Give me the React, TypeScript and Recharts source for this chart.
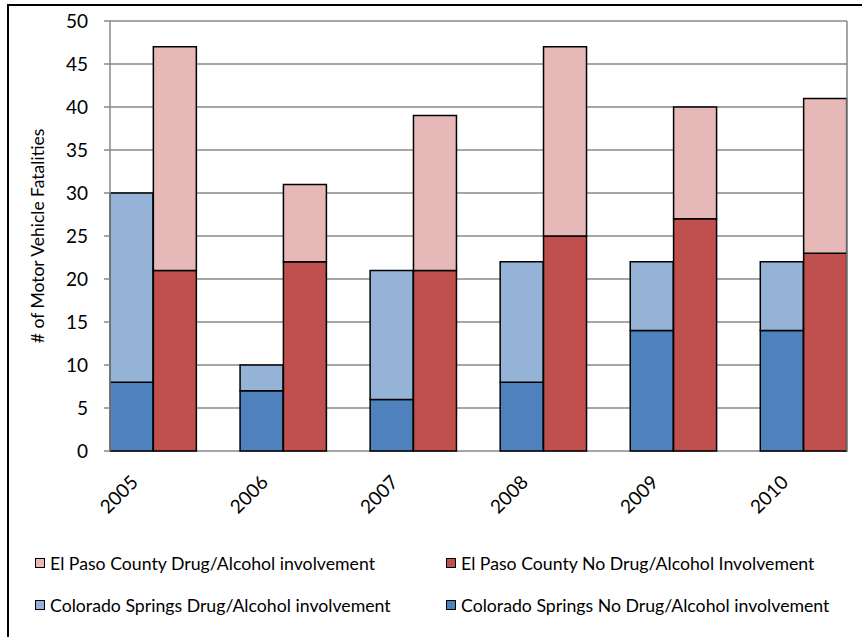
import React from 'react';
import { BarChart, Bar, XAxis, YAxis, CartesianGrid, Legend, ReferenceLine } from 'recharts';

const YEARS = ['2005', '2006', '2007', '2008', '2009', '2010'];
const CS_NO_DRUG = [8, 7, 6, 8, 14, 14];
const CS_DRUG = [22, 3, 15, 14, 8, 8];
const EP_NO_DRUG = [21, 22, 21, 25, 27, 23];
const EP_DRUG = [26, 9, 18, 22, 13, 18];
const Y_TICKS = [0, 5, 10, 15, 20, 25, 30, 35, 40, 45, 50];

const SERIES = [
  { key: 'csNo', name: 'Colorado Springs No Drug/Alcohol involvement', color: '#4F81BD' },
  { key: 'csDrug', name: 'Colorado Springs Drug/Alcohol involvement', color: '#95B3D7' },
  { key: 'epNo', name: 'El Paso County No Drug/Alcohol Involvement', color: '#C0504D' },
  { key: 'epDrug', name: 'El Paso County Drug/Alcohol involvement', color: '#E6B9B8' },
];
const LEGEND_ORDER = ['epDrug', 'epNo', 'csDrug', 'csNo'];

// each year: CS bar, EP bar, then an empty slot (none after the last year)
const SLOT_COUNT = YEARS.length * 3 - 1;
const data = YEARS.flatMap((y, i) => [
  { pos: i * 3 + 0.5, csNo: CS_NO_DRUG[i], csDrug: CS_DRUG[i] },
  { pos: i * 3 + 1.5, epNo: EP_NO_DRUG[i], epDrug: EP_DRUG[i] },
]);
const slotTicks = Array.from({ length: SLOT_COUNT + 1 }, (_, i) => i);
const yearTicks = YEARS.map((_, i) => i * 3 + 0.5);

const FONT = 'Lato, "Liberation Sans", sans-serif';
const GRID = '#888888';

const LegendBox = () => (
  <div style={{ display: 'grid', gridTemplateColumns: '411px 400px', rowGap: 18, paddingLeft: 35, fontFamily: FONT, fontSize: 17.7, color: '#000' }}>
    {LEGEND_ORDER.map((k) => {
      const s = SERIES.find((x) => x.key === k)!;
      return (
        <div key={k} style={{ display: 'flex', alignItems: 'center', height: 24 }}>
          <span style={{ width: 8, height: 8, background: s.color, border: '1.5px solid #000', marginRight: 5 }} />
          <span>{s.name}</span>
        </div>
      );
    })}
  </div>
);

export default function App() {
  return (
    <div style={{ position: 'fixed', left: 0, top: 0, width: 862, height: 637, overflow: 'hidden', background: '#fff' }}>
      <div style={{ position: 'absolute', left: 7, top: 4, width: 900, height: 700, border: '2px solid #000' }} />
      <div style={{ position: 'absolute', left: 0, top: 0 }}>
        <BarChart width={862} height={637} data={data} margin={{ top: 21, right: 15, left: 0, bottom: 126 }} barCategoryGap={0} barGap={0}>
          <CartesianGrid xAxisId="slots" vertical={false} stroke={GRID} strokeWidth={1.5} />
          <XAxis
            xAxisId="slots"
            type="number"
            dataKey="pos"
            domain={[0, SLOT_COUNT]}
            ticks={slotTicks}
            tickCount={SLOT_COUNT + 1}
            tick={false}
            height={0}
            tickSize={6}
            axisLine={{ stroke: GRID, strokeWidth: 1.5 }}
            tickLine={{ stroke: GRID, strokeWidth: 1.5 }}
            interval={0}
          />
          <XAxis
            xAxisId="years"
            type="number"
            dataKey="pos"
            domain={[0, SLOT_COUNT]}
            ticks={yearTicks}
            interval={0}
            height={60}
            tickSize={0}
            tickMargin={23}
            axisLine={false}
            tickLine={false}
            tickFormatter={(v: number) => YEARS[Math.floor(v / 3)]}
            tick={{ fill: '#000', fontSize: 19, fontFamily: FONT, angle: -45, textAnchor: 'end', dx: -2 }}
          />
          <YAxis
            domain={[0, 50]}
            ticks={Y_TICKS}
            interval={0}
            width={110}
            tickSize={6}
            tickMargin={16}
            axisLine={{ stroke: GRID, strokeWidth: 1.5 }}
            tickLine={{ stroke: GRID, strokeWidth: 1.5 }}
            tick={{ fill: '#000', fontSize: 19, fontFamily: FONT }}
            label={{ value: '# of Motor Vehicle Fatalities', angle: -90, position: 'insideLeft', offset: 38, style: { textAnchor: 'middle', fontSize: 17.5, fontFamily: FONT, fill: '#000' } }}
          />
          <ReferenceLine xAxisId="slots" x={SLOT_COUNT} stroke={GRID} strokeWidth={1.5} />
          {SERIES.map((s) => (
            <Bar key={s.key} xAxisId="slots" dataKey={s.key} name={s.name} stackId="a" fill={s.color} stroke="#000" strokeWidth={1.5} isAnimationActive={false} />
          ))}
          <Legend layout="horizontal" verticalAlign="middle" align="center" wrapperStyle={{ top: 551, left: 0, width: 862 }} content={() => <LegendBox />} />
        </BarChart>
      </div>
    </div>
  );
}
